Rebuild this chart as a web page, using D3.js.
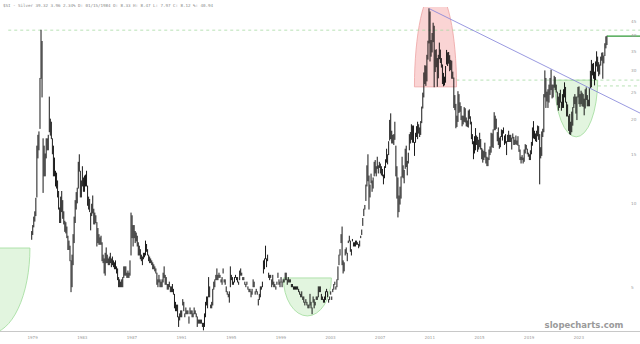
<!DOCTYPE html>
<html><head><meta charset="utf-8">
<script src="https://cdn.jsdelivr.net/npm/d3@7/dist/d3.min.js"></script>
<style>html,body{margin:0;padding:0;background:#fff;}svg{display:block}</style>
</head><body><svg id="c" width="640" height="344"></svg>
<script>
// ---- data: monthly silver range, April 1979 .. August 2025 ----
const startYear = 1979, startMonth = 3;
const silverLow = [
 7.4,7.7,8.2,8.6,9.0,10.5,14.5,15.5,18.5,
 28.0,24.0,10.9,12.5,12.5,14.5,15.5,15.5,18.0,17.5,17.0,15.0,
 12.5,12.5,11.5,11.3,10.5,9.5,8.5,8.5,9.3,8.8,8.4,7.9,
 7.8,7.5,6.8,6.8,6.2,4.8,5.0,6.0,7.2,8.5,9.5,10.0,
 11.3,13.0,10.5,10.5,11.5,11.0,11.0,11.5,11.5,9.8,9.5,9.3,
 8.0,9.0,9.2,8.4,8.4,8.5,7.0,7.2,7.1,7.1,7.1,6.2,
 6.1,5.6,5.5,6.1,6.1,6.0,6.0,6.1,5.9,6.0,5.9,5.8,
 5.8,5.6,5.3,5.0,5.0,5.0,5.0,5.0,5.4,5.5,5.5,5.4,
 5.4,5.4,5.5,6.5,7.5,7.0,7.5,7.2,7.3,7.0,6.5,6.5,
 6.3,6.2,6.0,6.3,6.4,6.5,6.7,6.5,6.2,6.1,6.1,6.0,
 5.8,5.8,5.7,5.6,5.1,5.0,5.2,5.0,5.0,5.0,5.2,5.4,
 5.1,5.1,4.9,4.9,5.0,4.8,4.8,4.8,4.7,4.2,4.1,4.1,
 3.9,3.6,3.8,3.9,3.9,4.3,4.1,3.9,4.0,4.0,4.0,3.7,
 4.0,4.0,3.9,3.9,4.0,4.0,3.9,3.6,3.7,3.7,3.7,3.7,
 3.6,3.5,3.6,3.9,4.3,4.2,4.6,4.6,4.2,4.2,4.3,4.9,
 5.0,5.3,5.3,5.3,5.4,5.4,5.2,5.1,5.6,5.2,5.1,4.8,
 4.7,4.6,4.4,5.0,5.3,5.1,5.1,5.2,5.4,5.3,5.2,5.1,
 5.3,5.5,5.5,5.3,5.3,5.1,5.0,5.1,4.9,4.8,4.8,4.6,
 4.7,5.0,5.0,4.7,4.8,4.7,4.3,4.5,4.6,4.9,5.0,5.6,
 5.8,6.3,5.9,6.2,5.4,5.3,5.4,5.0,5.1,5.0,5.0,4.9,
 5.1,5.4,5.1,5.0,5.2,5.0,5.2,5.2,5.3,5.3,5.1,5.2,
 5.2,5.2,5.0,5.0,4.9,4.9,4.9,4.9,4.9,4.8,4.7,4.6,
 4.6,4.5,4.4,4.3,4.4,4.3,4.2,4.2,4.3,4.2,4.0,4.4,
 4.2,4.3,4.5,4.5,4.6,4.8,4.8,4.5,4.5,4.4,4.4,4.5,
 4.8,4.6,4.4,4.5,4.7,4.5,4.8,4.9,5.1,4.9,5.0,5.3,
 6.0,6.5,7.2,6.0,5.6,5.7,6.5,6.6,6.2,7.2,7.3,6.7,
 6.5,7.3,7.0,7.0,7.0,7.1,7.1,6.9,7.0,7.5,7.7,8.3,
 9.0,9.5,10.2,11.5,12.0,9.5,10.5,11.8,11.0,11.3,12.5,12.8,
 12.5,13.3,12.8,13.4,12.8,12.6,12.5,11.7,12.3,13.4,14.0,13.8,
 14.9,16.8,17.0,16.4,16.4,16.2,16.9,12.5,10.4,8.9,9.3,9.9,
 10.4,12.4,12.3,11.8,13.3,13.5,12.6,13.9,15.5,16.4,16.9,16.5,
 16.5,14.8,16.5,17.3,17.0,17.8,17.3,17.6,19.4,21.9,24.0,26.8,
 26.4,27.4,32.8,37.5,32.3,33.6,34.8,37.9,26.1,29.6,30.8,26.2,
 28.1,32.9,31.9,30.7,26.8,26.3,26.5,27.1,31.5,31.1,31.7,29.8,
 30.1,28.0,28.0,22.0,21.6,18.6,18.8,19.6,21.1,21.3,19.9,18.9,
 19.2,19.6,19.5,18.9,18.8,18.7,20.1,19.2,17.0,16.3,14.4,15.1,
 15.5,16.2,15.3,15.6,15.9,15.6,14.4,14.0,14.3,14.6,13.9,13.6,
 13.6,14.3,14.9,15.2,15.9,15.8,18.3,18.3,18.5,16.7,16.2,15.7,
 15.9,17.3,16.8,17.8,16.2,16.4,14.9,16.6,16.6,16.6,16.6,15.6,
 17.1,16.2,16.2,16.3,16.2,16.1,15.3,14.3,13.9,14.3,13.9,14.1,
 15.1,15.6,15.0,14.7,14.3,14.3,15.0,16.1,17.1,17.0,16.7,16.6,
 17.4,16.9,11.7,14.5,14.8,17.3,18.0,24.0,22.0,23.2,22.0,23.0,
 24.5,25.5,23.8,24.0,26.0,25.5,25.0,22.5,21.5,22.0,23.0,21.5,
 22.0,22.0,24.0,23.0,20.5,20.5,18.2,17.7,17.6,18.0,19.0,22.0,
 22.7,21.0,19.9,24.0,22.7,22.2,22.7,22.3,22.2,20.7,21.9,23.5,
 22.3,22.3,22.3,25.9,26.1,28.8,28.0,26.5,27.7,31.0,29.7,28.6,
 29.0,31.2,32.5,28.0,31.8,33.8,36.0,37.0
];
const silverHigh = [
 7.9,8.3,8.9,9.3,10.4,16.0,17.5,18.0,28.0,
 41.7,38.0,17.0,16.0,15.0,17.0,17.0,17.5,24.0,20.0,19.5,17.0,
 16.0,14.5,13.0,12.8,12.0,11.0,9.6,10.5,11.0,10.2,9.3,8.6,
 8.5,8.2,7.6,7.3,7.0,6.2,6.5,7.7,8.9,10.2,10.9,11.3,
 14.0,14.9,13.0,12.0,13.5,12.3,12.5,12.6,13.0,11.5,10.5,10.3,
 9.2,9.9,10.6,9.5,9.2,9.0,8.5,8.1,7.7,7.5,7.6,7.2,
 6.5,6.3,6.6,6.9,6.5,6.3,6.4,6.6,6.3,6.4,6.2,6.1,
 6.2,5.9,5.8,5.4,5.3,5.2,5.3,5.4,5.9,5.9,5.9,5.6,
 5.7,5.6,6.2,9.2,9.0,8.3,8.3,7.9,7.8,7.6,7.2,7.0,
 6.8,6.5,6.4,6.6,6.6,7.3,7.1,6.8,6.5,6.4,6.3,6.2,
 6.1,6.0,5.9,5.8,5.6,5.3,5.5,5.3,5.2,5.3,5.6,5.9,
 5.5,5.4,5.1,5.1,5.2,5.0,5.0,5.1,4.9,4.7,4.4,4.3,
 4.3,3.9,4.0,4.1,4.1,4.5,4.4,4.0,4.2,4.1,4.1,3.9,
 4.2,4.1,4.1,4.0,4.2,4.1,4.0,3.9,3.8,3.8,3.8,3.8,
 3.7,3.7,4.0,4.4,4.6,4.6,5.4,5.0,4.3,4.4,4.9,5.2,
 5.3,5.5,5.8,5.5,5.6,5.5,5.3,5.4,5.8,5.3,5.3,5.0,
 4.8,4.7,4.8,5.9,5.5,5.4,5.2,5.4,5.5,5.4,5.4,5.2,
 5.7,5.8,5.6,5.4,5.4,5.2,5.1,5.2,5.0,4.9,4.9,4.8,
 4.9,5.3,5.2,4.8,4.9,4.8,4.5,4.7,5.0,5.0,5.2,6.2,
 6.3,7.0,6.3,6.5,5.6,5.5,5.5,5.3,5.5,5.2,5.1,5.0,
 5.2,5.6,5.3,5.2,5.4,5.2,5.3,5.3,5.6,5.6,5.3,5.4,
 5.3,5.3,5.1,5.1,5.0,5.0,5.0,5.0,5.0,4.9,4.8,4.7,
 4.8,4.6,4.6,4.4,4.5,4.4,4.3,4.3,4.7,4.4,4.2,4.6,
 4.5,4.4,4.6,4.6,5.0,5.0,5.0,4.7,4.6,4.5,4.6,4.8,
 4.9,4.8,4.5,4.6,4.8,4.6,4.9,5.1,5.2,5.0,5.3,5.9,
 6.5,6.8,7.7,8.2,6.2,6.1,6.8,6.9,6.6,7.3,7.6,7.3,
 6.8,7.4,7.2,7.2,7.3,7.3,7.2,7.1,7.3,7.6,8.0,8.8,
 9.5,9.8,11.6,13.6,14.9,12.5,11.6,12.7,12.0,12.3,14.0,14.2,
 13.5,14.6,13.6,14.0,13.8,13.5,13.2,12.6,13.5,14.3,15.6,14.9,
 16.6,19.8,20.9,18.1,17.5,17.6,19.5,16.0,13.5,12.3,10.6,11.4,
 12.4,14.6,13.6,13.1,15.6,16.0,14.1,15.1,17.6,17.9,19.1,18.9,
 18.9,16.5,17.8,18.8,19.5,19.1,18.6,19.6,22.1,24.8,29.3,31.1,
 31.0,33.9,38.1,49.8,48.5,38.3,40.6,44.2,43.1,35.3,35.5,33.0,
 33.9,37.5,35.4,33.0,31.3,29.2,28.3,30.9,35.3,34.6,34.7,33.8,
 32.5,32.3,29.5,28.1,24.3,22.6,20.5,25.1,24.5,22.9,22.2,20.5,
 20.5,22.0,21.8,20.2,19.7,21.4,21.6,20.4,19.5,17.6,16.6,17.3,
 18.5,17.4,17.2,16.8,17.8,16.9,15.7,15.5,15.3,16.4,15.2,14.6,
 14.5,15.5,15.9,17.8,17.7,18.3,21.1,20.5,20.0,17.9,18.6,17.1,
 17.3,18.3,18.2,18.6,17.4,17.6,16.6,17.5,18.1,17.5,17.5,17.1,
 17.7,17.2,16.8,17.4,16.7,17.3,16.1,15.5,14.6,14.8,14.5,15.5,
 16.2,16.1,15.6,15.1,14.9,15.4,16.5,18.6,19.6,18.1,17.7,18.1,
 18.9,18.8,17.6,15.8,18.0,18.4,24.5,29.8,28.0,25.0,25.5,26.5,
 28.0,30.0,26.5,26.5,28.5,28.2,26.5,25.0,24.0,24.7,25.4,23.0,
 24.5,25.5,27.0,26.0,23.0,22.5,20.5,20.8,19.5,21.2,22.0,24.0,
 24.5,24.0,24.0,26.0,26.1,24.5,25.2,24.8,24.5,23.6,25.5,25.9,
 24.3,23.4,25.8,29.7,32.5,31.5,31.7,29.5,32.1,34.9,33.4,31.9,
 31.3,33.4,34.5,34.6,33.7,37.3,39.5,39.7
];
const priceTicks = [5,10,15,20,25,30,35,40,45];
const yearTicks = [1979,1983,1987,1991,1995,1999,2003,2007,2011,2015,2019,2023];
const headerText = "$SI - Silver 39.32 3.96 2.34% D: 01/15/1984 O:  8.33 H:  8.47 L:  7.97 C:  8.12 %: 40.94";
// annotations (date in years, price in $)
const cupZones = [
  {from:1972.7, to:1979.15, top:6.89, bottom:3.4},
  {from:1999.56, to:2003.43, top:5.38, bottom:3.93},
  {from:2021.41, to:2024.88, top:27.6, bottom:17.25}
];
const topZones = [{from:2010.12, to:2013.51, bottom:26.1, top:58.1}];
const dashedLevels = [{price:41.7, from:1977.4}, {price:27.6, from:2013.5}, {price:26.3, from:2024.9}];
const trendLine = [{t:2011.32, p:49.8}, {t:2028.4, p:20.9}];
const lastLevel = {price:39.7, from:2025.63, to:2028.4};

const W = 640, H = 344;
const svg = d3.select("#c");
const x = d3.scaleLinear().domain([1980.04, 2025.63]).range([41, 607]);
const y = d3.scaleLog().domain([3.47, 50.5]).range([331, 7]);

svg.append("defs").append("clipPath").attr("id","plot")
  .append("rect").attr("x",0).attr("y",7).attr("width",W).attr("height",324);
const plot = svg.append("g").attr("clip-path","url(#plot)");

function halfEllipse(z, down){
  const x0 = x(z.from), x1 = x(z.to);
  const flat = down ? y(z.top) : y(z.bottom);
  const ext = down ? y(z.bottom) : y(z.top);
  const rx = (x1-x0)/2, ry = Math.abs(ext-flat);
  return `M${x0},${flat}A${rx},${ry} 0 0 ${down?0:1} ${x1},${flat}Z`;
}
plot.selectAll("path.cup").data(cupZones).join("path").attr("class","cup")
  .attr("d", d=>halfEllipse(d,true))
  .attr("fill","#e2f5df").attr("stroke","#9fdc9a").attr("stroke-width",0.8);
plot.selectAll("path.top").data(topZones).join("path").attr("class","top")
  .attr("d", d=>halfEllipse(d,false))
  .attr("fill","#fad4d4").attr("stroke","#eea3a3").attr("stroke-width",0.8);

plot.selectAll("line.lvl").data(dashedLevels).join("line").attr("class","lvl")
  .attr("x1",d=>x(d.from)).attr("x2",W).attr("y1",d=>y(d.price)).attr("y2",d=>y(d.price))
  .attr("stroke","#a6dba2").attr("stroke-width",0.8).attr("stroke-dasharray","3,3");

// bars
const bars = silverLow.map((lo,i)=>({t: startYear + (startMonth + i + 0.5)/12, lo, hi: silverHigh[i]}));
plot.selectAll("line.bar").data(bars).join("line").attr("class","bar")
  .attr("x1",d=>x(d.t)).attr("x2",d=>x(d.t))
  .attr("y1",d=>y(d.lo)+0.4).attr("y2",d=>y(d.hi)-0.4)
  .attr("stroke","#0d0d0d").attr("stroke-width",0.95);

plot.append("line")
  .attr("x1",x(trendLine[0].t)).attr("y1",y(trendLine[0].p))
  .attr("x2",x(trendLine[1].t)).attr("y2",y(trendLine[1].p))
  .attr("stroke","#7f7fd8").attr("stroke-width",0.8);

plot.append("line")
  .attr("x1",x(lastLevel.from)).attr("x2",x(lastLevel.to))
  .attr("y1",y(lastLevel.price)).attr("y2",y(lastLevel.price))
  .attr("stroke","#2f9a36").attr("stroke-width",1.3);

// axes
const yAxis = d3.axisRight(y).tickValues(priceTicks).tickSize(0).tickPadding(0).tickFormat(d3.format("d"));
const gy = svg.append("g").attr("transform","translate(631,0)").call(yAxis);
gy.select(".domain").remove();
gy.selectAll("text").attr("font-size",4.2).attr("fill","#999").attr("font-family","DejaVu Sans");

const xAxis = d3.axisBottom(x).tickValues(yearTicks).tickSize(0).tickFormat(d3.format("d"));
const gx = svg.append("g").attr("transform","translate(4,334)").call(xAxis);
gx.select(".domain").remove();
gx.selectAll("text").attr("font-size",4).attr("fill","#999").attr("font-family","DejaVu Sans").attr("dy","0.6em");

svg.append("line").attr("x1",0).attr("x2",W).attr("y1",331.5).attr("y2",331.5)
  .attr("stroke","#c8c8c8").attr("stroke-width",1);

svg.append("text").attr("x",3).attr("y",6.5).text(headerText)
  .attr("font-family","DejaVu Sans Mono").attr("font-size",4.2).attr("fill","#888")
  .attr("textLength",210).attr("lengthAdjust","spacing");

svg.append("text").attr("x",584).attr("y",328).attr("text-anchor","middle")
  .text("slopecharts.com").attr("font-family","DejaVu Sans").attr("font-weight","bold")
  .attr("font-size",8.5).attr("fill","#9a9a9a");
</script></body></html>
